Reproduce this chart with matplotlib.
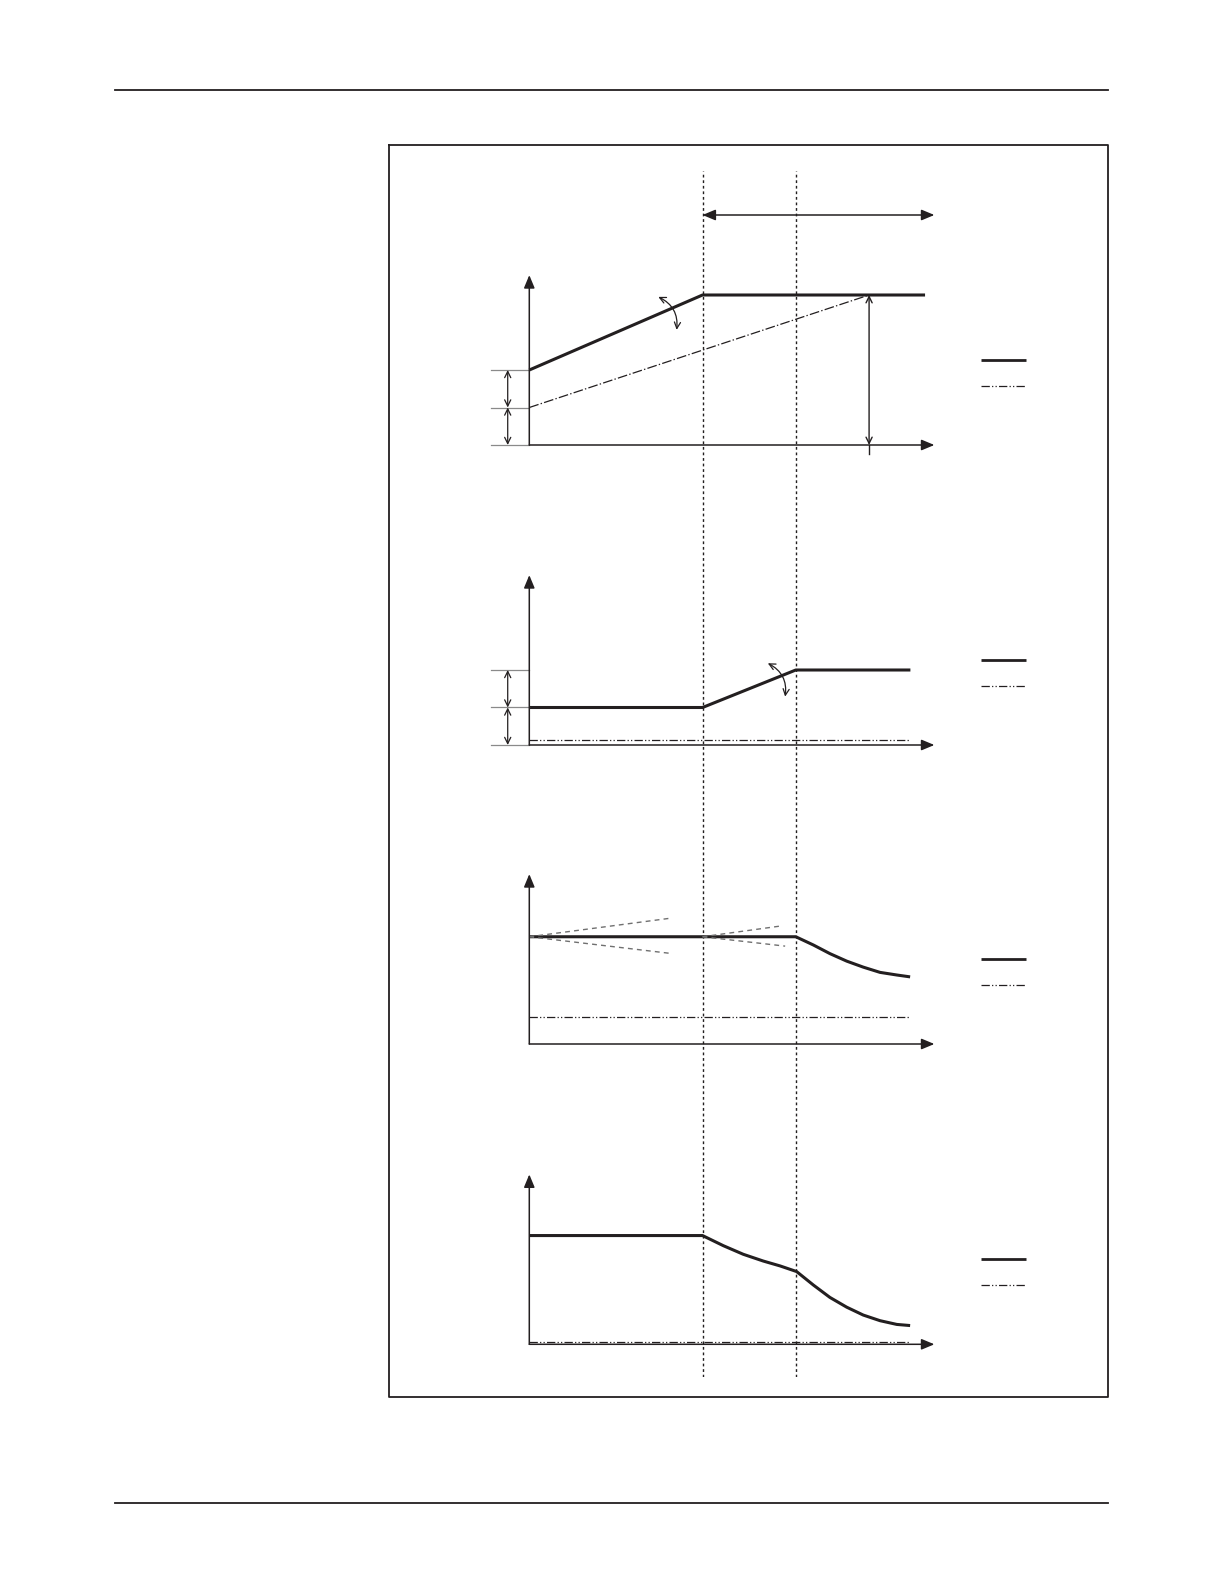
import matplotlib
matplotlib.use("Agg")
import matplotlib.pyplot as plt

plt.rcParams['lines.scale_dashes'] = False

# ---------------- data (abstract units: time t, value y) ----------------
T1, T2 = 6.5, 10.0            # the two switching instants (dotted verticals)
T_AXIS_END = 15.2             # tip of each time axis arrow
Y_AXIS_END = 4.53             # tip of each value axis arrow
LEGEND_T = [16.95, 18.64]
LEGEND_Y = [2.27, 1.57]

# Panel 1
p1_solid_t = [0.0, 6.5, 14.85]
p1_solid_y = [2.0, 4.0, 4.0]
p1_dash_t = [0.0, 12.75]
p1_dash_y = [1.0, 4.0]
p1_levels = [0.0, 1.0, 2.0]
p1_span_t = 12.75

# Panel 2
p2_solid_t = [0.0, 6.5, 10.0, 14.3]
p2_solid_y = [1.0, 1.0, 2.0, 2.0]
p2_ref_t = [0.0, 14.3]
p2_ref_y = [0.125, 0.125]
p2_levels = [0.0, 1.0, 2.0]

# Panel 3
p3_solid_t = [0.0, 6.5, 10.0, 10.66, 11.28, 11.91, 12.53, 13.16, 13.79, 14.29]
p3_solid_y = [2.86, 2.86, 2.86, 2.64, 2.41, 2.21, 2.05, 1.91, 1.84, 1.79]
p3_ref_t = [0.0, 14.3]
p3_ref_y = [0.72, 0.72]
p3_fan_start_t = [0.0, 6.5]
p3_fan_up_t = [5.25, 9.47]
p3_fan_up_y = [3.35, 3.15]
p3_fan_dn_t = [5.25, 9.6]
p3_fan_dn_y = [2.42, 2.61]

# Panel 4
p4_solid_t = [0.0, 6.5, 7.28, 8.03, 8.78, 9.41, 10.03, 10.66, 11.28, 11.91,
              12.53, 13.16, 13.79, 14.29]
p4_solid_y = [2.90, 2.90, 2.63, 2.40, 2.22, 2.09, 1.94, 1.58, 1.25, 0.99,
              0.78, 0.63, 0.53, 0.50]
p4_ref_t = [0.0, 14.3]
p4_ref_y = [0.07, 0.07]

# curved "adjustable slope" arrows (start/end points)
p1_curl = [(4.84, 3.95), (5.53, 3.07)]
p2_curl = [(8.95, 2.18), (9.60, 1.29)]

# ---------------- layout ----------------
W, H = 1224, 1584
X0 = 529.3          # pixel x of time origin
KX, KY = 26.65, 37.5  # pixels per unit
T_LO, T_HI = -2.0, 19.5
Y_LO, Y_HI = -0.5, 5.0
ORIGINS = [445.0, 745.0, 1044.0, 1344.3]

INK = '#231f20'
GREY = '#8a8a8a'
DASHDOT = (0, (7.0, 1.6, 1.0, 1.6))
DASHDOTDOT = (0, (6.0, 1.6, 0.9, 1.6, 0.9, 1.6))

fig = plt.figure(figsize=(W / 100, H / 100), dpi=100)
fig.patch.set_facecolor('white')

# page decoration
page = fig.add_axes([0, 0, 1, 1])
page.set_xlim(0, W)
page.set_ylim(H, 0)
page.axis('off')
page.plot([115, 1108], [90.3, 90.3], color=INK, lw=1.3)
page.plot([115, 1108], [1503.3, 1503.3], color=INK, lw=1.3)
page.plot([388.7, 1108.3, 1108.3, 388.7, 388.7],
          [144.7, 144.7, 1397, 1397, 144.7], color=INK, lw=1.3)


def add_axes_px(top_px, bottom_px, ylim):
    left = X0 + T_LO * KX
    right = X0 + T_HI * KX
    ax = fig.add_axes([left / W, 1 - bottom_px / H, (right - left) / W,
                       (bottom_px - top_px) / H])
    ax.set_xlim(T_LO, T_HI)
    ax.set_ylim(*ylim)
    ax.axis('off')
    return ax


def panel(oy):
    return add_axes_px(oy - Y_HI * KY, oy - Y_LO * KY, (Y_LO, Y_HI))


def arrow(ax, start, end, style='-|>', ms=13, lw=1.1, color=INK, **kw):
    ax.annotate('', xy=end, xytext=start,
                arrowprops=dict(arrowstyle=style, lw=lw, color=color,
                                shrinkA=0, shrinkB=0, mutation_scale=ms, **kw),
                annotation_clip=False)


def axes_arrows(ax):
    arrow(ax, (0, 0), (T_AXIS_END, 0), style='-|>,head_length=0.6,head_width=0.25')
    arrow(ax, (0, 0), (0, Y_AXIS_END), style='-|>,head_length=0.6,head_width=0.25')


def legend_samples(ax):
    ax.plot(LEGEND_T, [LEGEND_Y[0]] * 2, color=INK, lw=2.0, solid_capstyle='butt')
    ax.plot(LEGEND_T, [LEGEND_Y[1]] * 2, color=INK, lw=0.9, linestyle=DASHDOTDOT)


def level_marks(ax, levels):
    for lv in levels:
        ax.plot([-1.45, 0], [lv, lv], color=GREY, lw=0.9)
    for a, b in zip(levels[:-1], levels[1:]):
        arrow(ax, (-0.81, a), (-0.81, b), style='<->,head_length=0.45,head_width=0.22',
              ms=10, lw=0.9)


# time overlay (dotted verticals + top span arrow)
top_px, bot_px = 170.7, 1376.7
tax = add_axes_px(top_px, bot_px, (0, 1))
for tk in (T1, T2):
    tax.axvline(tk, color=INK, lw=1.0, linestyle=(0, (2.0, 2.0)))
span_y = (bot_px - 215.0) / (bot_px - top_px)
arrow(tax, (T1, span_y), (T_AXIS_END, span_y),
      style='<|-|>,head_length=0.6,head_width=0.25')

# ---- Panel 1
ax1 = panel(ORIGINS[0])
axes_arrows(ax1)
ax1.plot(p1_solid_t, p1_solid_y, color=INK, lw=2.2, solid_capstyle='butt')
ax1.plot(p1_dash_t, p1_dash_y, color=INK, lw=0.9, linestyle=DASHDOT)
level_marks(ax1, p1_levels)
ax1.plot([p1_span_t, p1_span_t], [-0.24, 0], color=INK, lw=1.0)
arrow(ax1, (p1_span_t, 0), (p1_span_t, p1_solid_y[-1]),
      style='<->,head_length=0.45,head_width=0.22', ms=10, lw=1.0)
arrow(ax1, p1_curl[0], p1_curl[1], style='<->,head_length=0.45,head_width=0.22',
      ms=10, lw=0.9, connectionstyle='arc3,rad=-0.35')
legend_samples(ax1)

# ---- Panel 2
ax2 = panel(ORIGINS[1])
axes_arrows(ax2)
ax2.plot(p2_solid_t, p2_solid_y, color=INK, lw=2.2, solid_capstyle='butt')
ax2.plot(p2_ref_t, p2_ref_y, color=INK, lw=0.9, linestyle=DASHDOTDOT)
level_marks(ax2, p2_levels)
arrow(ax2, p2_curl[0], p2_curl[1], style='<->,head_length=0.45,head_width=0.22',
      ms=10, lw=0.9, connectionstyle='arc3,rad=-0.35')
legend_samples(ax2)

# ---- Panel 3
ax3 = panel(ORIGINS[2])
axes_arrows(ax3)
ax3.plot(p3_solid_t, p3_solid_y, color=INK, lw=2.2, solid_capstyle='butt',
         solid_joinstyle='round')
ax3.plot(p3_ref_t, p3_ref_y, color=INK, lw=0.9, linestyle=DASHDOTDOT)
for s, tu, yu, td, yd in zip(p3_fan_start_t, p3_fan_up_t, p3_fan_up_y,
                             p3_fan_dn_t, p3_fan_dn_y):
    ax3.plot([s, tu], [p3_solid_y[0], yu], color='#707070', lw=1.0,
             linestyle=(0, (3.5, 3.0)))
    ax3.plot([s, td], [p3_solid_y[0], yd], color='#707070', lw=1.0,
             linestyle=(0, (3.5, 3.0)))
legend_samples(ax3)

# ---- Panel 4
ax4 = panel(ORIGINS[3])
axes_arrows(ax4)
ax4.plot(p4_solid_t, p4_solid_y, color=INK, lw=2.2, solid_capstyle='butt',
         solid_joinstyle='round')
ax4.plot(p4_ref_t, p4_ref_y, color=INK, lw=0.9, linestyle=DASHDOTDOT)
legend_samples(ax4)

fig.savefig('out.png', dpi=100, facecolor='white')
